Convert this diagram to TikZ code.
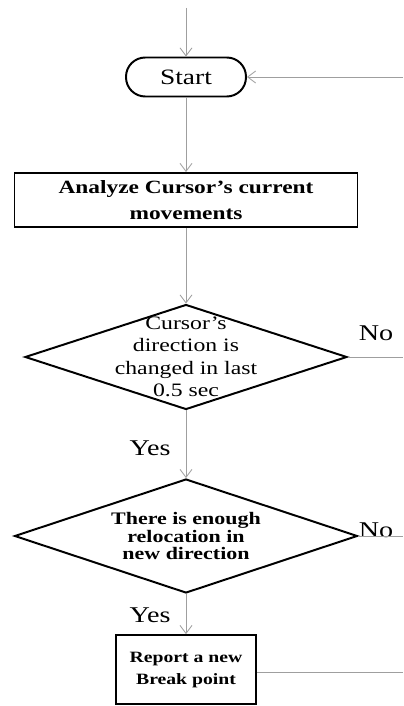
\documentclass[tikz,border=0pt]{standalone}
\usepackage{fontspec}
\setmainfont[FakeStretch=1.25]{Liberation Serif}
\usetikzlibrary{arrows.meta,shapes.geometric}
\tikzset{
  flw/.style={gray!75,line width=0.6pt,-{Straight Barb[length=2mm,width=3mm]}},
  lin/.style={gray!75,line width=0.6pt},
  term/.style={draw,line width=1.4pt,rounded corners=0.48cm,minimum width=3cm,minimum height=0.975cm},
  proc/.style={draw,line width=1.4pt,align=center,inner sep=0pt},
  dec/.style={draw,diamond,line width=1.4pt,inner sep=0pt},
  lbl/.style={align=center,inner sep=0pt}
}

\begin{document}
\begin{tikzpicture}
\useasboundingbox (0,0) rectangle (10.075,-17.65);
\clip (0,0) rectangle (10.075,-17.65);
% loose ends
\coordinate (top) at (4.65,-0.2);
\coordinate (back) at (10.075,-1.925);
\coordinate (dirno) at (10.075,-8.925);
\coordinate (relno) at (10.075,-13.4);
\coordinate (repout) at (10.075,-16.8);
% blocks
\node[term,font=\fontsize{15.6}{18}\selectfont] (start) at (4.65,-1.925) {Start};
\node[proc,minimum width=8.575cm,minimum height=1.35cm,font=\bfseries\fontsize{13.3}{19}\selectfont] (ana) at (4.65,-5.0) {Analyze Cursor's current\\movements};
\node[dec,minimum width=8.05cm,minimum height=2.625cm] (dir) at (4.65,-8.925) {};
\node[lbl,font=\fontsize{13.5}{16}\selectfont] (dirt) at (dir) {Cursor's\\direction is\\changed in last\\0.5 sec};
\node[dec,minimum width=8.575cm,minimum height=2.85cm] (rel) at (4.65,-13.4) {};
\node[lbl,font=\bfseries\fontsize{12.5}{12.5}\selectfont] (relt) at (rel) {There is enough\\relocation in\\new direction};
\node[proc,minimum width=3.5cm,minimum height=1.725cm,font=\bfseries\fontsize{11.2}{15.6}\selectfont] (rep) at (4.65,-16.74) {Report a new\\Break point};
% labels
\node[lbl,font=\fontsize{16}{18}\selectfont] (no1) at (9.4,-8.33) {No};
\node[lbl,font=\fontsize{16}{18}\selectfont] (no2) at (9.4,-13.25) {No};
\node[lbl,font=\fontsize{16}{18}\selectfont] (yes1) at (3.75,-11.2) {Yes};
\node[lbl,font=\fontsize{16}{18}\selectfont] (yes2) at (3.75,-15.375) {Yes};
% connectors
\draw[flw] (top) -- (start);
\draw[flw] (back) -- (start);
\draw[flw] (start) -- (ana);
\draw[flw] (ana) -- (dir);
\draw[flw] (dir) -- (rel);
\draw[flw] (rel) -- (rep);
\draw[lin] (dir.east) -- (dirno);
\draw[lin] (rel.east) -- (relno);
\draw[lin] (rep.east |- repout) -- (repout);
\end{tikzpicture}
\end{document}
